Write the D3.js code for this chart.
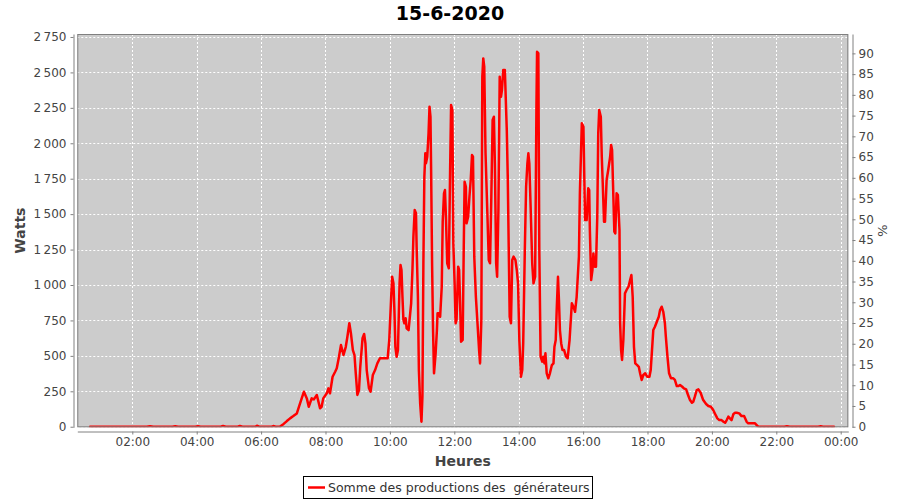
<!DOCTYPE html>
<html>
<head>
<meta charset="utf-8">
<script src="https://cdn.jsdelivr.net/npm/d3@7"></script>
<style>
  html, body { margin: 0; padding: 0; background: #fff; }
  svg { display: block; font-family: "DejaVu Sans", sans-serif; }
</style>
</head>
<body>
<svg id="chart" width="900" height="500"></svg>
<script>
// ---- Data ----
const title = "15-6-2020";
const seriesName = "Somme des productions des  générateurs";
const xLabel = "Heures";
const yLabel = "Watts";
const y2Label = "%";

// time of day in decimal hours
const heures = [
  0.69, 1.0, 1.5, 2.0, 2.45, 2.55, 2.65, 3.0, 3.25, 3.33, 3.42, 3.8, 3.96, 4.04, 4.12, 4.5,
  4.75, 4.82, 4.9, 5.2, 5.28, 5.34, 5.42, 5.75, 5.82, 5.87, 5.94, 6.25, 6.33, 6.38, 6.45, 6.59,
  6.70, 6.80, 6.90, 7.00, 7.11, 7.21, 7.33, 7.42, 7.48, 7.57, 7.64, 7.73, 7.83, 7.88, 7.93, 8.04,
  8.09, 8.14, 8.22, 8.30, 8.35, 8.41, 8.48, 8.56, 8.63, 8.68, 8.74, 8.79, 8.85, 8.90, 8.94, 8.99,
  9.04, 9.08, 9.15, 9.20, 9.24, 9.28, 9.35, 9.40, 9.47, 9.54, 9.61, 9.69, 9.80, 9.93, 9.98, 10.04,
  10.07, 10.11, 10.14, 10.17, 10.21, 10.25, 10.30, 10.33, 10.36, 10.39, 10.42, 10.45, 10.49, 10.52, 10.58, 10.61,
  10.66, 10.70, 10.73, 10.77, 10.81, 10.83, 10.87, 10.90, 10.94, 10.98, 11.01, 11.04, 11.07, 11.10, 11.12, 11.16,
  11.20, 11.23, 11.26, 11.28, 11.31, 11.34, 11.37, 11.42, 11.46, 11.48, 11.52, 11.56, 11.61, 11.64, 11.68, 11.71,
  11.74, 11.78, 11.83, 11.87, 11.90, 11.94, 11.97, 12.01, 12.04, 12.07, 12.12, 12.15, 12.18, 12.21, 12.26, 12.29,
  12.32, 12.36, 12.38, 12.43, 12.47, 12.51, 12.55, 12.58, 12.62, 12.67, 12.72, 12.77, 12.80, 12.84, 12.87, 12.90,
  12.93, 12.97, 13.03, 13.07, 13.11, 13.15, 13.19, 13.23, 13.26, 13.30, 13.33, 13.37, 13.41, 13.45, 13.48, 13.52,
  13.57, 13.63, 13.66, 13.69, 13.72, 13.76, 13.80, 13.84, 13.90, 13.94, 13.98, 14.02, 14.07, 14.11, 14.14, 14.19,
  14.23, 14.27, 14.30, 14.33, 14.37, 14.42, 14.46, 14.51, 14.55, 14.57, 14.61, 14.64, 14.68, 14.73, 14.76, 14.80,
  14.83, 14.87, 14.92, 14.97, 15.03, 15.08, 15.11, 15.15, 15.18, 15.22, 15.25, 15.28, 15.32, 15.36, 15.41, 15.47,
  15.52, 15.58, 15.65, 15.70, 15.75, 15.80, 15.87, 15.90, 15.96, 16.01, 16.06, 16.11, 16.16, 16.19, 16.21, 16.25,
  16.29, 16.32, 16.36, 16.40, 16.44, 16.47, 16.50, 16.55, 16.58, 16.61, 16.65, 16.68, 16.73, 16.78, 16.84, 16.87,
  16.90, 16.94, 16.97, 17.00, 17.04, 17.08, 17.13, 17.15, 17.18, 17.21, 17.25, 17.30, 17.35, 17.41, 17.46, 17.50,
  17.54, 17.58, 17.62, 17.68, 17.73, 17.77, 17.82, 17.87, 17.93, 17.99, 18.06, 18.10, 18.14, 18.18, 18.23, 18.29,
  18.35, 18.39, 18.44, 18.49, 18.54, 18.57, 18.62, 18.67, 18.73, 18.80, 18.85, 18.91, 18.96, 19.01, 19.08, 19.13,
  19.20, 19.24, 19.28, 19.32, 19.38, 19.42, 19.47, 19.53, 19.58, 19.65, 19.73, 19.82, 19.89, 19.97, 20.04, 20.10,
  20.17, 20.23, 20.30, 20.36, 20.41, 20.46, 20.51, 20.56, 20.61, 20.67, 20.72, 20.77, 20.85, 20.92, 21.00, 21.08,
  21.13, 21.24, 21.34, 21.39, 21.44, 21.7, 22.0, 22.25, 22.33, 22.42, 22.8, 23.0, 23.3, 23.38, 23.45, 23.79
];

// total production in watts
const watts = [
  0, 0, 0, 0, 0, 4, 0, 0, 0, 4, 0, 0, 0, 4, 0, 0,
  0, 6, 0, 0, 0, 6, 0, 0, 0, 7, 0, 0, 0, 5, 0, 2,
  20, 40, 59, 75, 94, 165, 247, 200, 141, 200, 193, 224, 130, 141, 200, 236,
  271, 236, 353, 388, 412, 483, 576, 506, 564, 635, 730, 659, 541, 506, 377, 224,
  259, 423, 624, 654, 588, 400, 271, 247, 365, 400, 447, 483, 483, 483, 612, 917,
  1058, 1012, 823, 564, 494, 541, 1012, 1141, 1106, 917, 753, 730, 765, 694, 682, 753,
  871, 1106, 1341, 1529, 1506, 1270, 917, 400, 165, 35, 212, 1153, 1764, 1929, 1859, 1905,
  2070, 2258, 2187, 1811, 1153, 682, 377, 518, 682, 800, 800, 776, 988, 1446, 1647, 1670,
  1482, 1153, 1118, 1811, 2270, 2235, 1294, 1012, 730, 753, 1129, 1106, 871, 600, 612, 1200,
  1729, 1693, 1435, 1482, 1623, 1741, 1917, 1905, 1200, 917, 730, 541, 447, 753, 2470, 2599,
  2540, 1929, 1482, 1176, 1153, 1623, 2164, 2187, 1859, 1153, 1058, 1529, 2470, 2328, 2376, 2517,
  2517, 2093, 1764, 1270, 776, 730, 1176, 1200, 1176, 1106, 1012, 612, 353, 400, 588, 1247,
  1693, 1859, 1929, 1859, 1552, 1153, 1012, 1058, 2235, 2646, 2635, 1247, 494, 459, 494, 447,
  518, 377, 342, 377, 435, 447, 564, 612, 823, 1058, 894, 682, 588, 541, 541, 494,
  483, 612, 871, 847, 811, 917, 1200, 1647, 2141, 2117, 1458, 1458, 1682, 1670, 1388, 1035,
  1106, 1223, 1129, 1129, 1482, 2070, 2235, 2187, 1905, 1717, 1446, 1446, 1741, 1811, 1905, 1988,
  1952, 1623, 1376, 1364, 1647, 1635, 1388, 730, 541, 471, 612, 941, 965, 988, 1035, 1070,
  917, 564, 447, 435, 423, 377, 330, 365, 377, 353, 353, 400, 541, 682, 706, 741,
  776, 823, 847, 811, 730, 635, 494, 377, 342, 342, 330, 287, 287, 294, 282, 271,
  264, 236, 212, 188, 169, 176, 212, 259, 264, 240, 188, 160, 146, 141, 118, 90,
  59, 47, 47, 35, 28, 47, 71, 59, 47, 90, 99, 99, 94, 75, 75, 35,
  24, 24, 24, 12, 0, 0, 0, 0, 3, 0, 0, 0, 0, 3, 0, 0
];

const yTicks = [0, 250, 500, 750, 1000, 1250, 1500, 1750, 2000, 2250, 2500, 2750];
const y2Ticks = [0, 5, 10, 15, 20, 25, 30, 35, 40, 45, 50, 55, 60, 65, 70, 75, 80, 85, 90];

// ---- Layout ----
const svg = d3.select("#chart");
const P = { left: 77.3, right: 848.3, top: 34, bottom: 427.3 };

const base = new Date(2020, 5, 15, 0, 0, 0);
const toDate = h => new Date(base.getTime() + h * 3600000);

const x = d3.scaleTime()
  .domain([toDate(0.292), toDate(24.236)])
  .range([P.left, P.right]);
const y = d3.scaleLinear().domain([-4, 2771]).range([P.bottom, P.top]);
const y2 = d3.scaleLinear().domain([-0.14, 94.67]).range([P.bottom, P.top]);

const data = heures.map((h, i) => ({ t: toDate(h), v: watts[i] }));

// plot background
svg.append("rect")
  .attr("x", P.left).attr("y", P.top)
  .attr("width", P.right - P.left).attr("height", P.bottom - P.top)
  .attr("fill", "#cccccc");

// gridlines
const xTickVals = d3.timeHour.every(2).range(x.domain()[0], x.domain()[1]);
const grid = svg.append("g").attr("stroke", "#ffffff").attr("stroke-width", 1)
  .attr("stroke-dasharray", "2,2");
grid.selectAll("line.h").data(yTicks).join("line")
  .attr("x1", P.left).attr("x2", P.right)
  .attr("y1", d => Math.round(y(d)) + 0.5).attr("y2", d => Math.round(y(d)) + 0.5);
grid.selectAll("line.v").data(xTickVals).join("line")
  .attr("y1", P.top).attr("y2", P.bottom)
  .attr("x1", d => Math.round(x(d)) + 0.5).attr("x2", d => Math.round(x(d)) + 0.5);

// line
svg.append("clipPath").attr("id", "clip").append("rect")
  .attr("x", P.left).attr("y", P.top)
  .attr("width", P.right - P.left).attr("height", P.bottom - P.top);
const line = d3.line().x(d => x(d.t)).y(d => y(d.v));
svg.append("path").datum(data)
  .attr("clip-path", "url(#clip)")
  .attr("fill", "none")
  .attr("stroke", "#ff0000")
  .attr("stroke-width", 2.5)
  .attr("stroke-linejoin", "round")
  .attr("stroke-linecap", "round")
  .attr("d", line);

// plot outline
svg.append("rect")
  .attr("x", P.left + 0.5).attr("y", P.top + 0.5)
  .attr("width", P.right - P.left - 1).attr("height", P.bottom - P.top - 1)
  .attr("fill", "none").attr("stroke", "#808080").attr("stroke-width", 1);

// axes
const loc = d3.formatLocale({ decimal: ",", thousands: "\u202f", grouping: [3], currency: ["", ""] });
const fmt = loc.format(",d");

function styleAxis(g) {
  g.selectAll("path.domain").attr("stroke", "#808080");
  g.selectAll(".tick line").attr("stroke", "#808080");
  g.selectAll("text").attr("fill", "#444444")
    .style("font-family", "'DejaVu Sans', sans-serif").style("font-size", "12px");
}

const gy = svg.append("g").attr("transform", "translate(73.5,0)")
  .call(d3.axisLeft(y).tickValues(yTicks).tickFormat(fmt).tickSizeInner(3).tickSizeOuter(0).tickPadding(4));
styleAxis(gy);

const gy2 = svg.append("g").attr("transform", "translate(852.5,0)")
  .call(d3.axisRight(y2).tickValues(y2Ticks).tickSizeInner(3).tickSizeOuter(0).tickPadding(3));
styleAxis(gy2);

const gx = svg.append("g").attr("transform", "translate(0,431.5)")
  .call(d3.axisBottom(x).tickValues(xTickVals).tickFormat(d3.timeFormat("%H:%M"))
    .tickSizeInner(3).tickSizeOuter(0).tickPadding(3));
styleAxis(gx);

// labels
svg.append("text").attr("x", 450).attr("y", 20).attr("text-anchor", "middle")
  .attr("font-weight", "bold").attr("font-size", 19).attr("fill", "#000")
  .text(title);

svg.append("text").attr("x", (P.left + P.right) / 2).attr("y", 466).attr("text-anchor", "middle")
  .attr("font-weight", "bold").attr("font-size", 14).attr("fill", "#444444")
  .text(xLabel);

svg.append("text").attr("transform", "translate(25," + ((P.top + P.bottom) / 2) + ") rotate(-90)")
  .attr("text-anchor", "middle")
  .attr("font-weight", "bold").attr("font-size", 14).attr("fill", "#444444")
  .text(yLabel);

svg.append("text").attr("transform", "translate(878," + ((P.top + P.bottom) / 2) + ") rotate(90)")
  .attr("text-anchor", "middle")
  .attr("font-size", 13).attr("fill", "#444444")
  .text(y2Label);

// legend
const lg = svg.append("g");
lg.append("rect").attr("x", 303.5).attr("y", 476.5).attr("width", 289).attr("height", 22)
  .attr("fill", "#fff").attr("stroke", "#000").attr("stroke-width", 1);
lg.append("line").attr("x1", 308).attr("x2", 325).attr("y1", 487.5).attr("y2", 487.5)
  .attr("stroke", "#ff0000").attr("stroke-width", 2.5);
lg.append("text").attr("x", 328).attr("y", 492)
  .attr("font-size", 12.5).attr("fill", "#333333")
  .style("white-space", "pre")
  .text(seriesName);
</script>
</body>
</html>
